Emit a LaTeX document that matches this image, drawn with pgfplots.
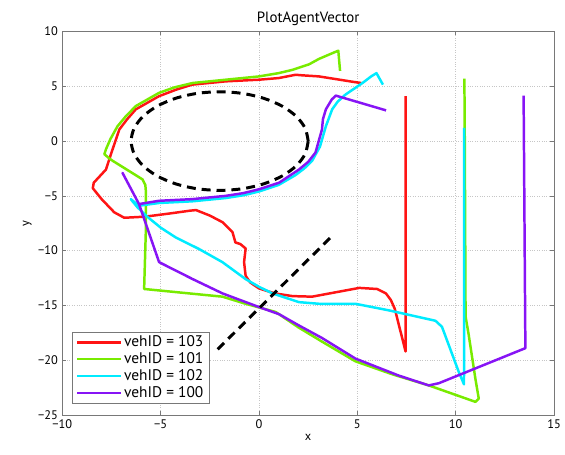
\documentclass[border=0pt]{standalone}
\usepackage{pgfplots}
\pgfplotsset{compat=1.18}
\usepackage{fontspec}
\setmainfont{PT Sans}

\definecolor{c103}{RGB}{255,20,20}
\definecolor{c101}{RGB}{120,235,0}
\definecolor{c102}{RGB}{0,235,255}
\definecolor{c100}{RGB}{135,20,245}
\definecolor{axgray}{RGB}{120,120,120}

\begin{document}
\begin{tikzpicture}
\fontsize{12.5pt}{14pt}\selectfont
\begin{axis}[
  scale only axis,
  width=495pt, height=386pt,
  xmin=-10, xmax=15, ymin=-25, ymax=10,
  xtick={-10,-5,0,5,10,15},
  xticklabels={−10,−5,0,5,10,15},
  ytick={-25,-20,-15,-10,-5,0,5,10},
  yticklabels={−25,−20,−15,−10,−5,0,5,10},
  tick align=inside,
  major tick length=4pt,
  tick style={axgray, line width=0.5pt},
  axis line style={axgray, line width=0.7pt},
  grid=major,
  grid style={gray!45, dotted, line width=0.7pt},
  title={PlotAgentVector},
  title style={yshift=-4pt, font=\fontsize{15pt}{17pt}\selectfont},
  xlabel={x}, ylabel={y},
  xlabel style={yshift=3pt},
  ylabel style={yshift=-2pt},
  legend cell align=left,
  legend style={at={(0.019,0.03)}, anchor=south west, draw=axgray,
    line width=0.7pt, inner xsep=4pt, inner ysep=2pt, row sep=0pt,
    font=\fontsize{15.5pt}{17pt}\selectfont},
  legend image code/.code={\draw[#1] (0pt,0pt) -- (44pt,0pt);},
  every axis plot/.append style={line width=2.5pt, line join=round},
]
% vehID = 103
\addplot[c103] coordinates {
 (7.45,4.1) (7.45,-19.2) (7.38,-18.7) (6.9,-15.3)
 (6.7,-14.5) (6.45,-13.9) (6.0,-13.5) (5.1,-13.4) (3.9,-13.8) (2.7,-14.2)
 (1.7,-14.15) (0.8,-13.9) (0.0,-13.45) (-0.45,-12.9) (-0.68,-12.3)
 (-0.76,-11.05) (-0.68,-9.8) (-0.95,-9.4) (-1.2,-9.25) (-1.35,-8.3)
 (-1.86,-7.4) (-2.5,-6.8) (-3.2,-6.3) (-3.5,-6.35) (-4.5,-6.6) (-5.8,-6.9)
 (-6.85,-7.0) (-7.36,-6.5) (-8.0,-5.3) (-8.45,-4.3) (-8.4,-3.8) (-7.78,-2.6)
 (-7.5,-1.05) (-7.3,0.0) (-7.1,1.06) (-6.7,2.0) (-6.26,2.9) (-5.08,4.1)
 (-4.2,4.7) (-3.4,5.15) (-1.69,5.45) (0.0,5.6) (1.0,5.75) (1.86,6.05)
 (2.2,6.0) (3.05,5.9) (4.8,5.4) (5.2,5.3)
};
\addlegendentry{vehID = 103}
% vehID = 101
\addplot[c101] coordinates {
 (4.12,6.4) (4.03,8.25) (3.7,8.0) (3.05,7.5)
 (2.54,7.0) (1.7,6.5) (1.0,6.2) (0.0,5.9) (-1.69,5.6) (-3.37,5.3)
 (-4.3,4.9) (-5.08,4.4) (-6.26,3.2) (-6.8,2.2) (-7.19,1.36) (-7.55,0.2)
 (-7.78,-0.75) (-7.86,-1.2) (-7.6,-1.6) (-7.44,-1.8) (-5.92,-3.5)
 (-5.78,-4.0) (-5.75,-4.6) (-5.75,-8.0) (-5.84,-13.5) (-1.86,-14.2)
 (-0.68,-14.85) (0.85,-15.6) (2.0,-17.0) (3.2,-18.3) (4.9,-20.1)
 (6.8,-21.3) (8.63,-22.3) (11.0,-23.8) (11.17,-23.5) (11.0,-21.7)
 (10.66,-17.7) (10.5,-16.0) (10.46,0.0) (10.44,5.7)
};
\addlegendentry{vehID = 101}
% vehID = 102
\addplot[c102] coordinates {
 (6.3,5.15) (5.97,6.2) (5.7,5.9) (5.26,5.3) (4.4,4.25) (4.0,3.6)
 (3.72,2.9) (3.4,1.36) (3.1,-0.5) (2.7,-1.8) (2.3,-2.5) (1.86,-3.1)
 (1.0,-4.0) (0.0,-4.6) (-0.8,-4.95) (-1.69,-5.2) (-3.4,-5.5) (-5.08,-5.65)
 (-6.1,-5.9) (-6.52,-5.3) (-6.2,-6.0) (-5.75,-6.8) (-5.0,-7.9)
 (-4.23,-8.8) (-3.05,-9.85) (-1.86,-11.05) (-0.68,-12.6) (0.0,-13.3)
 (0.68,-13.9) (2.03,-14.7) (3.05,-14.85) (4.9,-14.85) (6.6,-15.45)
 (8.97,-16.4) (9.3,-16.95) (10.15,-21.05) (10.42,-22.2) (10.43,1.2)
};
\addlegendentry{vehID = 102}
% vehID = 100
\addplot[c100] coordinates {
 (6.46,2.8) (3.9,4.15) (3.7,3.8) (3.4,2.9) (3.25,2.0)
 (3.2,1.06) (2.87,-1.05) (2.5,-1.9) (2.03,-2.6) (1.02,-3.8) (0.0,-4.4)
 (-0.8,-4.75) (-1.69,-5.0) (-3.4,-5.3) (-5.08,-5.45) (-6.1,-5.75)
 (-6.94,-2.9) (-6.1,-5.75) (-5.08,-11.05) (-3.37,-12.6) (-1.86,-13.9)
 (0.0,-15.15) (1.02,-15.8) (2.0,-16.8) (3.2,-17.97) (4.9,-19.85)
 (7.1,-21.4) (8.63,-22.3) (9.14,-22.1) (13.54,-18.9) (13.45,4.15)
};
\addlegendentry{vehID = 100}
% dashed obstacle outline and dashed segment
\addplot[black, line width=3pt, dash pattern=on 9pt off 6pt, smooth, forget plot] coordinates {
 (2.5,0) (2.347,1.165) (1.897,2.25) (1.182,3.182) (0.25,3.897) (-0.835,4.347)
 (-2,4.5) (-3.165,4.347) (-4.25,3.897) (-5.182,3.182) (-5.897,2.25)
 (-6.347,1.165) (-6.5,0) (-6.347,-1.165) (-5.897,-2.25) (-5.182,-3.182)
 (-4.25,-3.897) (-3.165,-4.347) (-2,-4.5) (-0.835,-4.347) (0.25,-3.897)
 (1.182,-3.182) (1.897,-2.25) (2.347,-1.165) (2.5,0)
};
\addplot[black, line width=3pt, dash pattern=on 9pt off 6pt, forget plot] coordinates {
 (-2.1,-19.0) (3.75,-8.6)
};
\end{axis}
\path (current axis.south west) ++(-62.7pt,-40pt);
\path (current axis.north east) ++(7.3pt,31.7pt);
\end{tikzpicture}
\end{document}
